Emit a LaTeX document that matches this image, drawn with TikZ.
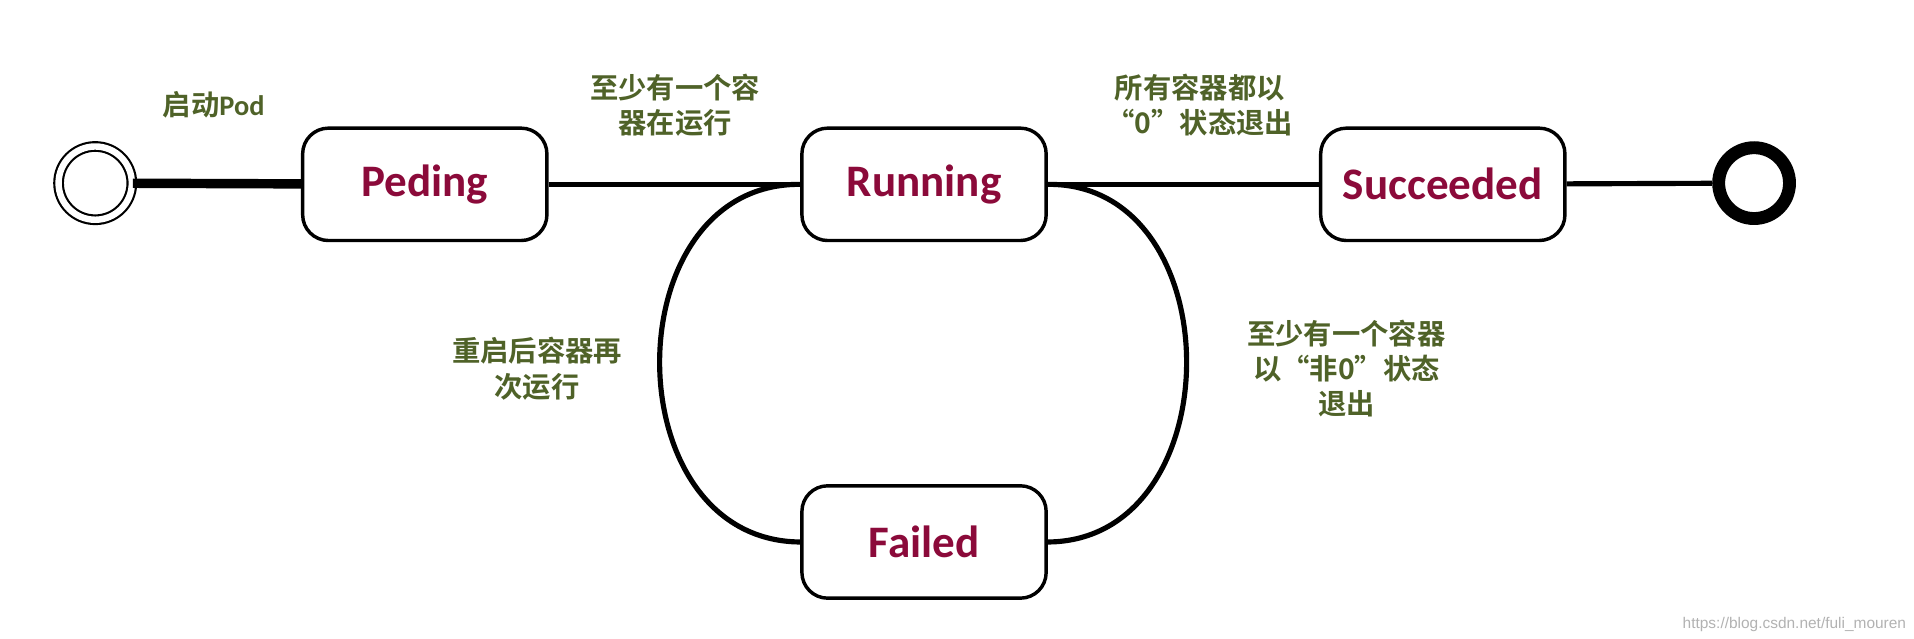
\documentclass[tikz,border=0pt]{standalone}
\usepackage{fontspec}
\setmainfont{Carlito}
\newfontfamily\cjk{Noto Sans CJK SC}[BoldFont={* Bold}]
\definecolor{st}{HTML}{8B0A3A}
\definecolor{lb}{HTML}{4F6228}
\begin{document}
\begin{tikzpicture}[x=0.01cm,y=-0.01cm,
 box/.style={draw,thick,rounded corners=6pt,minimum width=2cm,minimum height=0.92cm,font=\fontsize{10.5}{12}\selectfont\bfseries,text=st},
 lab/.style={font=\cjk\bfseries\fontsize{6.6}{8.2}\selectfont,text=lb,align=center},
 line/.style={line width=1.2pt}]
\useasboundingbox (0,0) rectangle (1568,523);
\node[box] (p) at (348,151) {Peding};
\node[box] (r) at (757,151) {Running};
\node[box] (s) at (1182,151) {Succeeded};
\node[box] (f) at (757,444) {Failed};
\node[draw,circle,minimum size=0.6cm,line width=0.5pt,double,double distance=1.5pt] (i) at (78,150) {};
\node[draw,circle,minimum size=0.58cm,line width=3pt] (e) at (1437,150) {};
\draw[line width=2.2pt] (i) -- (p);
\draw[line] (p) -- (r);
\draw[line] (r) -- (s);
\draw[line] (s) -- (e);
\draw[line] (r.west) .. controls (502,150) and (502,443) .. (f.west);
\draw[line] (r.east) .. controls (1010,150) and (1010,443) .. (f.east);
\node[lab] (l1) at (175,86) {启动{\fontspec{Carlito}\bfseries Pod}};
\node[lab] (l2) at (553,86) {至少有一个容\\器在运行};
\node[lab] (l3) at (983,86) {所有容器都以\\“0”状态退出};
\node[lab] (l4) at (440,302) {重启后容器再\\次运行};
\node[lab] (l5) at (1103,302) {至少有一个容器\\以“非0”状态\\退出};
\node[font=\fontspec{Liberation Sans}\fontsize{3.6}{4}\selectfont,text=gray!60] (w) at (1470,512) {https://blog.csdn.net/fuli\_mouren};
\end{tikzpicture}
\end{document}
